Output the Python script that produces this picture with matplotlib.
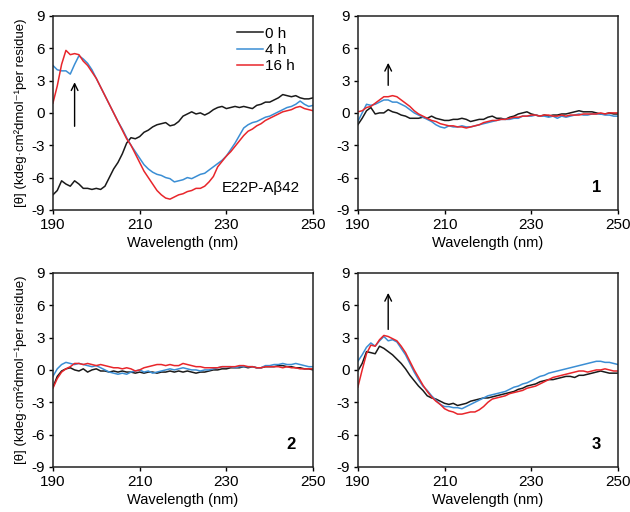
import numpy as np
import matplotlib.pyplot as plt

plt.rcParams['font.family'] = ['Liberation Sans', 'DejaVu Sans']
plt.rcParams['axes.unicode_minus'] = False

# wavelength grid, 1 nm steps
wavelength = np.arange(190, 251)

# panel: E22P-Abeta42
e22p_0h = [-7.6, -7.2, -6.3, -6.6, -6.8, -6.3, -6.6, -7.0, -7.0, -7.1,
           -7.0, -7.1, -6.8, -6.0, -5.2, -4.6, -3.8, -2.8, -2.3, -2.4,
           -2.2, -1.8, -1.6, -1.3, -1.1, -1.0, -0.9, -1.2, -1.1, -0.8,
           -0.3, -0.1, 0.1, -0.1, 0.0, -0.2, 0.0, 0.3, 0.5, 0.6,
           0.4, 0.5, 0.6, 0.5, 0.6, 0.5, 0.4, 0.7, 0.8, 1.0,
           1.0, 1.2, 1.4, 1.7, 1.6, 1.5, 1.6, 1.4, 1.3, 1.3, 1.4]
e22p_4h = [4.4, 4.0, 3.9, 3.9, 3.6, 4.5, 5.3, 5.0, 4.6, 4.0,
           3.2, 2.4, 1.6, 0.8, 0.0, -0.8, -1.5, -2.3, -3.0, -3.6,
           -4.2, -4.8, -5.2, -5.5, -5.7, -5.8, -6.0, -6.1, -6.4, -6.3,
           -6.2, -6.0, -6.1, -5.9, -5.7, -5.6, -5.3, -5.0, -4.7, -4.4,
           -4.0, -3.4, -2.8, -2.1, -1.4, -1.1, -0.9, -0.8, -0.6, -0.4,
           -0.3, -0.1, 0.1, 0.3, 0.5, 0.6, 0.8, 1.1, 0.8, 0.6, 0.7]
e22p_16h = [0.9, 2.5, 4.5, 5.8, 5.4, 5.5, 5.4, 4.8, 4.4, 3.8,
            3.2, 2.4, 1.6, 0.8, 0.0, -0.8, -1.6, -2.4, -3.0, -3.8,
            -4.6, -5.4, -6.0, -6.6, -7.2, -7.6, -7.9, -8.0, -7.8, -7.6,
            -7.5, -7.3, -7.2, -7.0, -7.0, -6.8, -6.4, -5.9, -5.0, -4.5,
            -4.0, -3.6, -3.1, -2.6, -2.1, -1.7, -1.5, -1.2, -1.0, -0.7,
            -0.5, -0.3, -0.1, 0.1, 0.2, 0.3, 0.5, 0.6, 0.4, 0.3, 0.2]

# panel: compound 1
c1_0h = [-1.1, -0.5, 0.2, 0.5, -0.1, 0.0, 0.0, 0.3, 0.1, 0.0,
         -0.2, -0.3, -0.5, -0.5, -0.5, -0.4, -0.5, -0.3, -0.5, -0.6,
         -0.7, -0.7, -0.6, -0.6, -0.5, -0.6, -0.8, -0.7, -0.6, -0.6,
         -0.4, -0.3, -0.5, -0.5, -0.6, -0.4, -0.3, -0.1, 0.0, 0.1,
         -0.1, -0.2, -0.3, -0.2, -0.3, -0.2, -0.2, -0.1, -0.1, 0.0,
         0.1, 0.2, 0.1, 0.1, 0.1, 0.0, -0.1, -0.1, 0.0, -0.1, -0.1]
c1_4h = [-0.8, 0.0, 0.8, 0.7, 0.8, 1.0, 1.2, 1.2, 1.0, 1.0,
         0.8, 0.6, 0.3, 0.0, -0.2, -0.4, -0.6, -0.8, -1.1, -1.3,
         -1.4, -1.2, -1.3, -1.3, -1.2, -1.3, -1.3, -1.2, -1.1, -1.0,
         -0.9, -0.8, -0.7, -0.6, -0.6, -0.6, -0.5, -0.5, -0.3, -0.3,
         -0.3, -0.2, -0.3, -0.3, -0.4, -0.3, -0.5, -0.3, -0.4, -0.3,
         -0.2, -0.1, -0.2, -0.2, -0.1, -0.1, -0.1, -0.2, -0.2, -0.3, -0.3]
c1_16h = [0.1, 0.2, 0.5, 0.6, 0.9, 1.2, 1.5, 1.5, 1.6, 1.5,
          1.2, 0.9, 0.6, 0.2, -0.1, -0.3, -0.5, -0.7, -0.8, -1.0,
          -1.1, -1.2, -1.2, -1.3, -1.3, -1.4, -1.3, -1.2, -1.1, -0.9,
          -0.8, -0.7, -0.7, -0.6, -0.6, -0.5, -0.4, -0.4, -0.3, -0.3,
          -0.2, -0.2, -0.3, -0.2, -0.2, -0.3, -0.3, -0.2, -0.3, -0.2,
          -0.2, -0.2, -0.1, -0.1, -0.1, -0.1, 0.0, -0.1, 0.0, 0.0, 0.0]

# panel: compound 2
c2_0h = [-1.6, -0.6, -0.1, 0.1, 0.2, 0.0, -0.1, 0.1, -0.2, 0.0,
         0.1, -0.1, -0.1, -0.2, -0.1, -0.2, -0.1, -0.2, -0.2, -0.3,
         -0.2, -0.3, -0.2, -0.2, -0.3, -0.2, -0.2, -0.1, -0.2, -0.1,
         -0.2, -0.1, -0.2, -0.3, -0.2, -0.2, -0.1, 0.0, 0.0, 0.1,
         0.1, 0.2, 0.2, 0.2, 0.3, 0.2, 0.3, 0.2, 0.2, 0.3,
         0.3, 0.3, 0.4, 0.4, 0.3, 0.3, 0.2, 0.2, 0.1, 0.1, 0.0]
c2_4h = [-0.6, 0.1, 0.5, 0.7, 0.6, 0.5, 0.6, 0.5, 0.4, 0.3,
         0.4, 0.2, 0.0, -0.2, -0.3, -0.4, -0.3, -0.4, -0.2, -0.1,
         0.0, -0.2, -0.1, -0.3, -0.2, -0.1, 0.0, 0.1, 0.0, 0.1,
         0.2, 0.1, 0.0, 0.0, -0.1, 0.0, 0.0, 0.1, 0.2, 0.3,
         0.3, 0.3, 0.2, 0.3, 0.3, 0.3, 0.3, 0.2, 0.2, 0.4,
         0.4, 0.5, 0.5, 0.6, 0.5, 0.5, 0.6, 0.5, 0.4, 0.3, 0.3]
c2_16h = [-1.7, -0.8, -0.2, 0.1, 0.3, 0.6, 0.6, 0.5, 0.6, 0.5,
          0.4, 0.5, 0.4, 0.3, 0.2, 0.2, 0.1, 0.2, 0.1, -0.1,
          0.0, 0.2, 0.3, 0.4, 0.5, 0.5, 0.4, 0.5, 0.4, 0.4,
          0.6, 0.5, 0.4, 0.3, 0.3, 0.2, 0.2, 0.2, 0.2, 0.3,
          0.3, 0.3, 0.3, 0.4, 0.4, 0.3, 0.3, 0.2, 0.2, 0.3,
          0.3, 0.3, 0.3, 0.2, 0.3, 0.2, 0.2, 0.1, 0.1, 0.1, 0.1]

# panel: compound 3
c3_0h = [-0.1, 0.6, 1.7, 1.6, 1.5, 2.2, 2.0, 1.7, 1.4, 1.0,
         0.6, 0.1, -0.5, -1.0, -1.5, -1.9, -2.4, -2.6, -2.7, -2.9,
         -3.1, -3.2, -3.1, -3.3, -3.2, -3.1, -2.9, -2.8, -2.7, -2.6,
         -2.6, -2.5, -2.4, -2.3, -2.2, -2.1, -2.0, -1.8, -1.7, -1.5,
         -1.4, -1.3, -1.1, -1.0, -0.9, -0.9, -0.8, -0.7, -0.6, -0.6,
         -0.7, -0.5, -0.5, -0.4, -0.3, -0.2, -0.1, -0.2, -0.3, -0.3, -0.3]
c3_4h = [0.8, 1.4, 2.1, 2.5, 2.2, 2.7, 3.1, 2.7, 2.8, 2.6,
         2.0, 1.4, 0.6, -0.2, -0.9, -1.5, -1.9, -2.4, -2.8, -3.2,
         -3.4, -3.4, -3.5, -3.5, -3.6, -3.4, -3.2, -3.0, -2.8, -2.6,
         -2.4, -2.3, -2.2, -2.1, -2.0, -1.8, -1.6, -1.5, -1.3, -1.2,
         -1.0, -0.8, -0.6, -0.5, -0.3, -0.2, -0.1, 0.0, 0.1, 0.2,
         0.3, 0.4, 0.5, 0.6, 0.7, 0.8, 0.8, 0.7, 0.7, 0.6, 0.5]
c3_16h = [-1.6, 0.0, 1.5, 2.3, 2.2, 2.8, 3.2, 3.1, 2.9, 2.7,
          2.2, 1.6, 0.8, 0.0, -0.7, -1.4, -2.0, -2.5, -2.9, -3.2,
          -3.6, -3.8, -3.9, -4.1, -4.1, -4.0, -3.9, -3.9, -3.7, -3.4,
          -3.0, -2.7, -2.6, -2.5, -2.4, -2.2, -2.1, -2.0, -1.9, -1.7,
          -1.6, -1.5, -1.3, -1.1, -0.9, -0.7, -0.6, -0.5, -0.4, -0.3,
          -0.2, -0.1, -0.1, -0.2, -0.1, 0.0, 0.0, 0.1, 0.0, -0.1, -0.1]

time_labels = ["0 h", "4 h", "16 h"]
line_colors = ["#1a1a1a", "#3b8ed4", "#e8262b"]
panel_tags = ["E22P-A\u03b242", "1", "2", "3"]
# arrows: (x, y_start, y_end) or None
panel_arrows = [(195, -1.5, 3.1), (197, 2.3, 4.9), None, (197, 3.5, 7.4)]

panels = [
    [e22p_0h, e22p_4h, e22p_16h],
    [c1_0h, c1_4h, c1_16h],
    [c2_0h, c2_4h, c2_16h],
    [c3_0h, c3_4h, c3_16h],
]

fig = plt.figure(figsize=(6.3, 5.12), dpi=100)
w, h = 0.413, 0.379
positions = [(0.084, 0.590), (0.568, 0.590), (0.084, 0.088), (0.568, 0.088)]
ylab = "[\u03b8] (kdeg\u00b7cm\u00b2dmol\u207b\u00b9per residue)"

for i, (pos, series) in enumerate(zip(positions, panels)):
    ax = fig.add_axes([pos[0], pos[1], w, h])
    for vals, col, lab in zip(series, line_colors, time_labels):
        ax.plot(wavelength, vals, color=col, lw=1.1, label=lab)
    ax.set_xlim(190, 250)
    ax.set_ylim(-9, 9)
    ax.set_xticks([190, 210, 230, 250])
    ax.set_yticks([-9, -6, -3, 0, 3, 6, 9])
    ax.tick_params(direction="out", length=3, width=1, labelsize=11, pad=3)
    for sp in ax.spines.values():
        sp.set_linewidth(1.1)
        sp.set_color("#222222")
    ax.set_xlabel("Wavelength (nm)", fontsize=10.5, labelpad=3)
    if i % 2 == 0:
        ax.set_ylabel(ylab, fontsize=9.5, labelpad=3)

    arr = panel_arrows[i]
    if arr is not None:
        ax.annotate("", xy=(arr[0], arr[2]), xytext=(arr[0], arr[1]),
                    arrowprops=dict(arrowstyle="->", color="black", lw=1.0,
                                    mutation_scale=12))

    if i == 0:
        ax.text(247, -7.0, panel_tags[i], fontsize=11, ha="right", va="center")
        ax.legend(loc="upper right", bbox_to_anchor=(0.97, 1.0), frameon=False,
                  fontsize=11, handlelength=1.7, handletextpad=0.1,
                  labelspacing=0.15, borderaxespad=0.3)
    else:
        ax.text(245, -6.9, panel_tags[i], fontsize=12, fontweight="bold",
                ha="center", va="center")

fig.savefig("out.png", dpi=100)
